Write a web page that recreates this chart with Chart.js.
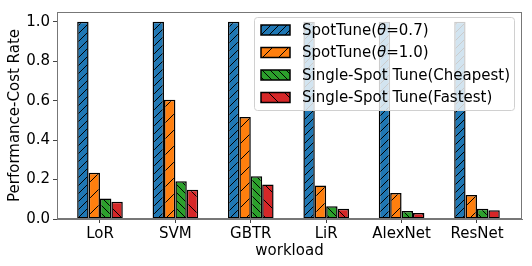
<!DOCTYPE html>
<html>
<head>
<meta charset="utf-8">
<script src="https://cdn.jsdelivr.net/npm/chart.js@4"></script>
<style>
  html, body { margin: 0; padding: 0; background: #fff; }
  canvas { display: block; }
</style>
</head>
<body>
<canvas id="chart" width="532" height="266"></canvas>
<script>
const workloads = ["LoR", "SVM", "GBTR", "LiR", "AlexNet", "ResNet"];
const spotTune07 = [1.0, 1.0, 1.0, 1.0, 1.0, 1.0];
const spotTune10 = [0.234, 0.605, 0.518, 0.170, 0.132, 0.122];
const singleCheapest = [0.104, 0.192, 0.217, 0.065, 0.040, 0.052];
const singleFastest = [0.087, 0.149, 0.175, 0.052, 0.030, 0.044];
const yTicks = [0, 0.2, 0.4, 0.6, 0.8, 1.0];

const FONT = "'DejaVu Sans', sans-serif";
const FS = 15;

// hatch pattern like matplotlib: '/' or '\', spacing in px
function hatch(color, s, dir) {
  const c = document.createElement("canvas");
  c.width = s; c.height = s;
  const g = c.getContext("2d");
  g.fillStyle = color;
  g.fillRect(0, 0, s, s);
  g.strokeStyle = "#000";
  g.lineWidth = 1;
  g.beginPath();
  if (dir === "/") {
    g.moveTo(0, s); g.lineTo(s, 0);
    g.moveTo(-1, 1); g.lineTo(1, -1);
    g.moveTo(s - 1, s + 1); g.lineTo(s + 1, s - 1);
  } else {
    g.moveTo(0, 0); g.lineTo(s, s);
    g.moveTo(-1, s - 1); g.lineTo(1, s + 1);
    g.moveTo(s - 1, -1); g.lineTo(s + 1, 1);
  }
  g.stroke();
  return g.createPattern(c, "repeat");
}

const series = [
  { label: ["SpotTune(", "θ", "=0.7)"], data: spotTune07, fill: hatch("#1f77b4", 8, "/") },
  { label: ["SpotTune(", "θ", "=1.0)"], data: spotTune10, fill: hatch("#ff7f0e", 16, "/") },
  { label: ["Single-Spot Tune(Cheapest)"], data: singleCheapest, fill: hatch("#2ca02c", 8, "\\") },
  { label: ["Single-Spot Tune(Fastest)"], data: singleFastest, fill: hatch("#d62728", 16, "\\") }
];

const framePlugin = {
  id: "frame",
  afterDatasetsDraw(chart) {
    const { ctx, chartArea: a } = chart;
    ctx.save();
    ctx.strokeStyle = "#777";
    ctx.lineWidth = 1;
    ctx.strokeRect(a.left + 0.5, a.top + 0.5, a.right - a.left - 1, a.bottom - a.top - 1);
    ctx.restore();
  }
};

const legendPlugin = {
  id: "boxLegend",
  afterDatasetsDraw(chart) {
    const ctx = chart.ctx;
    const x = 254, y = 17, w = 260, h = 93;
    ctx.save();
    ctx.beginPath();
    ctx.roundRect(x + 0.5, y + 0.5, w, h, 3);
    ctx.fillStyle = "rgba(255,255,255,0.8)";
    ctx.fill();
    ctx.strokeStyle = "#d0d0d0";
    ctx.lineWidth = 1;
    ctx.stroke();
    ctx.textBaseline = "middle";
    series.forEach((s, i) => {
      const cy = 30 + i * 22.5;
      ctx.fillStyle = s.fill;
      ctx.fillRect(261, cy - 5, 29, 10);
      ctx.strokeStyle = "#000";
      ctx.lineWidth = 1.5;
      ctx.strokeRect(261, cy - 5, 29, 10);
      let tx = 302;
      s.label.forEach(part => {
        ctx.font = (part === "θ" ? "italic " : "") + FS + "px " + FONT;
        ctx.fillStyle = "#000";
        ctx.fillText(part, tx, cy + 1);
        tx += ctx.measureText(part).width;
      });
    });
    ctx.restore();
  }
};

new Chart(document.getElementById("chart"), {
  type: "bar",
  data: {
    datasets: series.map(s => ({
      label: s.label.join(""),
      data: s.data.map((v, i) => ({ x: i, y: v })),
      backgroundColor: s.fill,
      borderColor: "#000",
      borderWidth: 1.5,
      borderSkipped: false,
      categoryPercentage: 0.605,
      barPercentage: 1
    }))
  },
  options: {
    responsive: false,
    animation: false,
    devicePixelRatio: 1,
    layout: { padding: { top: 9, right: 10, left: 0, bottom: 0 } },
    plugins: { legend: { display: false }, tooltip: { enabled: false } },
    scales: {
      x: {
        type: "linear",
        min: -0.57,
        max: 5.597,
        offset: false,
        afterBuildTicks: s => { s.ticks = workloads.map((_, i) => ({ value: i })); },
        afterFit: s => { s.height = 47; },
        ticks: {
          callback: v => workloads[v],
          font: { family: FONT, size: FS },
          color: "#000",
          padding: 2,
          maxRotation: 0
        },
        grid: { drawOnChartArea: false, offset: false, tickLength: 4, color: "#444" },
        border: { display: true, color: "#777" },
        title: {
          display: true,
          text: "workload",
          font: { family: FONT, size: FS },
          color: "#000",
          padding: { top: 0, bottom: 5.5 }
        }
      },
      y: {
        min: 0,
        max: 1.05,
        afterBuildTicks: s => { s.ticks = yTicks.map(v => ({ value: v })); },
        afterFit: s => { s.width = 57; },
        ticks: {
          callback: v => v.toFixed(1),
          font: { family: FONT, size: FS },
          color: "#000",
          padding: 3
        },
        grid: { drawOnChartArea: false, tickLength: 4, color: "#444" },
        border: { display: true, color: "#777" },
        title: {
          display: true,
          text: "Performance-Cost Rate",
          font: { family: FONT, size: FS },
          color: "#000",
          padding: { top: 6, bottom: 0 }
        }
      }
    }
  },
  plugins: [framePlugin, legendPlugin]
});
</script>
</body>
</html>
